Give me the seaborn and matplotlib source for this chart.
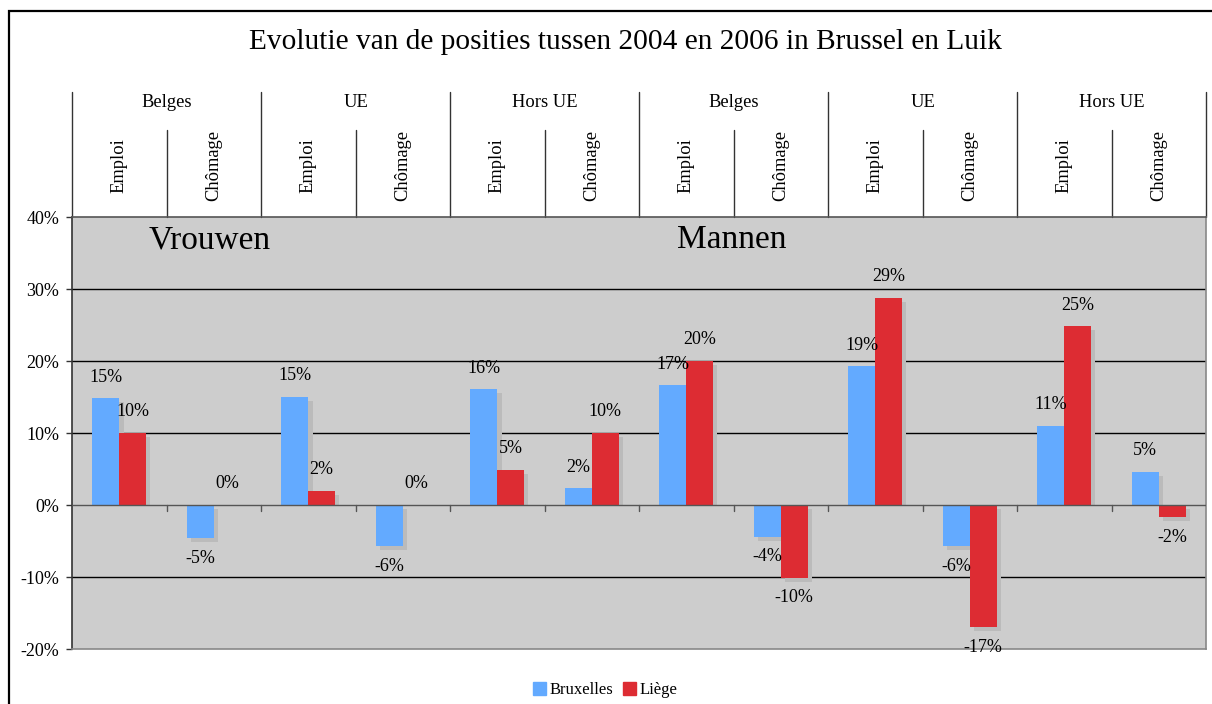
import numpy as np
import pandas as pd
import matplotlib
matplotlib.use("Agg")
import matplotlib.pyplot as plt
from matplotlib.patches import Rectangle
import seaborn as sns

# data
groups = ["Belges", "UE", "Hors UE", "Belges", "UE", "Hors UE"]
sub_labels = ["Emploi", "Chômage"]
sexes = ["Vrouwen", "Mannen"]
bruxelles = [14.8, -4.6, 15.0, -5.7, 16.1, 2.3, 16.6, -4.4, 19.3, -5.7, 11.0, 4.6]
liege = [10.0, 0.0, 2.0, 0.0, 4.9, 10.0, 20.0, -10.1, 28.8, -17.0, 24.8, -1.7]
y_ticks = [-20, -10, 0, 10, 20, 30, 40]

cats = [f"c{i}" for i in range(len(bruxelles))]
df = pd.DataFrame({
    "cat": cats * 2,
    "value": bruxelles + liege,
    "ville": ["Bruxelles"] * len(bruxelles) + ["Liège"] * len(liege),
})

sns.set_style("white")
plt.rcParams["font.family"] = ["Liberation Serif", "DejaVu Serif"]
plt.rcParams["text.color"] = "black"
plt.rcParams["ytick.labelcolor"] = "black"

blue = "#63AAFF"
red = "#DD2C33"
fig = plt.figure(figsize=(12.12, 7.04), dpi=100)
ax = fig.add_axes([72 / 1212, 55 / 704, 1134 / 1212, 432 / 704])
ax.set_facecolor("#CDCDCD")

sns.barplot(data=df, x="cat", y="value", hue="ville", order=cats,
            palette=[blue, red], width=0.57, saturation=1, ax=ax,
            legend=False, zorder=3, edgecolor="none", linewidth=0)

# drop shadows
dx, dy = 0.045, 0.55
for cont in ax.containers:
    for p in cont.patches:
        x0, w, h = p.get_x(), p.get_width(), p.get_height()
        if h >= 0:
            if h - dy > 0:
                ax.add_patch(Rectangle((x0 + dx, 0), w, h - dy, color="#BBBBBB",
                                       zorder=2, lw=0))
        else:
            ax.add_patch(Rectangle((x0 + dx, -dy), w, h, color="#BBBBBB",
                                   zorder=2, lw=0))

# value labels
for cont in ax.containers:
    for p in cont.patches:
        h = p.get_height()
        xc = p.get_x() + p.get_width() / 2
        off = 21 if h >= 0 else -20
        ax.annotate(f"{h:.0f}%", (xc, h), xytext=(0, off), textcoords="offset pixels",
                    ha="center", va="center", fontsize=13, zorder=5)

ax.set_ylim(-20, 40)
ax.set_xlim(-0.5, len(cats) - 0.5)
ax.set_yticks(y_ticks)
ax.set_yticklabels([f"{t}%" for t in y_ticks], fontsize=13)
ax.tick_params(axis="y", direction="out", length=4.3, width=1, color="#333333", pad=5, left=True)
ax.set_xticks([])
ax.set_xlabel("")
ax.set_ylabel("")
for t in y_ticks:
    if t not in (-20, 40):
        ax.axhline(t, color="black" if t != 0 else "#555555", lw=1, zorder=1 if t != 0 else 4)
# small tick marks on the zero line between categories
for b in np.arange(0.5, len(cats) - 0.5, 1):
    ax.plot([b, b], [0, -0.9], color="#555555", lw=1, zorder=4)

ax.spines["left"].set_color("#333333")
for s in ["right", "bottom", "top"]:
    ax.spines[s].set_color("#888888")
ax.spines["top"].set_color("#555555")
for s in ax.spines.values():
    s.set_linewidth(1.2)

# category header above the plot
tr = ax.get_xaxis_transform()
for i in range(len(groups) + 1):
    ax.plot([2 * i - 0.5] * 2, [1, 1.289], transform=tr, color="#333333", lw=1, clip_on=False)
for i, g in enumerate(groups):
    ax.text(2 * i + 0.5, 1.266, g, transform=tr, ha="center", va="center", fontsize=13.3)
    ax.plot([2 * i + 0.5] * 2, [1, 1.2014], transform=tr, color="#333333", lw=1, clip_on=False)
    for j, s in enumerate(sub_labels):
        ax.text(2 * i + j, 1.12, s, transform=tr, ha="center", va="center",
                rotation=90, fontsize=13.3)

ax.text(0.96, 0.947, sexes[0], transform=tr, ha="center", va="center", fontsize=24, zorder=5)
ax.text(6.48, 0.947, sexes[1], transform=tr, ha="center", va="center", fontsize=24, zorder=5)

fig.text(625 / 1212, 1 - 42 / 704, "Evolutie van de posities tussen 2004 en 2006 in Brussel en Luik",
         ha="center", va="center", fontsize=21.2)

handles = [Rectangle((0, 0), 1, 1, color=blue), Rectangle((0, 0), 1, 1, color=red)]
fig.legend(handles, ["Bruxelles", "Liège"], loc="center", ncol=2, frameon=False,
           bbox_to_anchor=(605 / 1212, 1 - 690 / 704), fontsize=12,
           handlelength=0.8, handleheight=0.8, handletextpad=0.2, columnspacing=0.6)

# outer frame of the chart object
fig.add_artist(Rectangle((8.5 / 1212, -0.2), 2, 1.2 - 10.5 / 704, transform=fig.transFigure,
                         fill=False, edgecolor="black", lw=1.6))

fig.savefig("out.png", dpi=100)
